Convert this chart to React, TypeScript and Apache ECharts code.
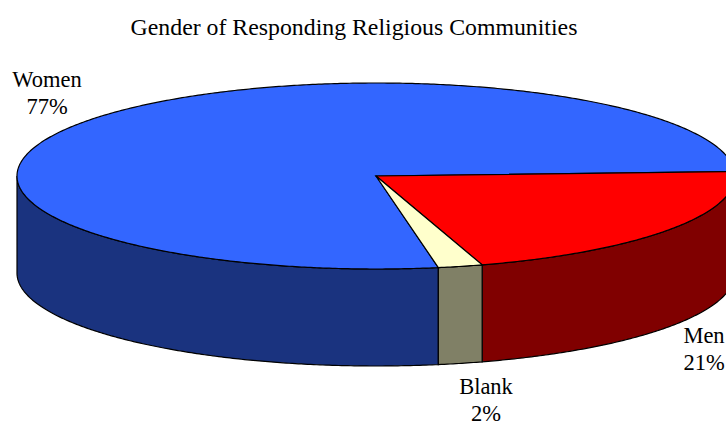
import React, { useEffect, useRef } from "react";
import * as echarts from "echarts";

const categories = ["Women", "Men", "Blank"];
const shares = [77, 21, 2];
const topColors = ["#3366FF", "#FF0000", "#FFFFCC"];
const sideColors = ["#1A337F", "#800000", "#808066"];
const chartTitle = "Gender of Responding Religious Communities";

// Disc geometry in pixels; angles are degrees clockwise on screen from the +x axis.
const CX = 376;
const CY = 176;
const RX = 359;
const RY = 93;
const DEPTH = 97;
const START_ANGLE = 80;
const SERIF = "'Liberation Serif', serif";
const labelAnchors = [
  { x: 47, y: 93 },
  { x: 704, y: 349 },
  { x: 486, y: 400 },
];

const rad = (d: number) => (d * Math.PI) / 180;
const rim = (a: number, dy = 0) => [
  CX + RX * Math.cos(rad(a)),
  CY + RY * Math.sin(rad(a)) + dy,
];

function arc(a0: number, a1: number, dy = 0) {
  const n = Math.max(2, Math.ceil(Math.abs(a1 - a0) * 2));
  const pts: number[][] = [];
  for (let k = 0; k <= n; k++) pts.push(rim(a0 + ((a1 - a0) * k) / n, dy));
  return pts;
}

function renderSlice(params: any, api: any) {
  const i = params.dataIndex;
  const total = shares.reduce((s, v) => s + v, 0);
  const before = shares.slice(0, i).reduce((s, v) => s + v, 0);
  // Women runs clockwise from the blank slice, round the back, to the men slice.
  const a0 = START_ANGLE + (before / total) * 360;
  const a1 = a0 + (api.value(0) / total) * 360;
  const stroke = { stroke: "#000", lineWidth: 1.2 };
  const children: any[] = [];

  // The front wall shows only where the rim lies in the lower half of the ellipse.
  for (const off of [0, 360]) {
    const s = Math.max(a0, off);
    const e = Math.min(a1, off + 180);
    if (e > s) {
      children.push({
        type: "polygon",
        shape: { points: [...arc(s, e), ...arc(e, s, DEPTH)] },
        style: { fill: sideColors[i], ...stroke },
      });
    }
  }

  children.push({
    type: "polygon",
    z2: 2,
    shape: { points: [[CX, CY], ...arc(a0, a1)] },
    style: { fill: topColors[i], ...stroke },
  });

  children.push({
    type: "text",
    z2: 3,
    x: labelAnchors[i].x,
    y: labelAnchors[i].y,
    style: {
      text: `${categories[i]}\n${api.value(0)}%`,
      font: `22.5px ${SERIF}`,
      fill: "#000",
      align: "center",
      verticalAlign: "middle",
      lineHeight: 27,
    },
  });

  return { type: "group", children };
}

export default function App() {
  const ref = useRef<HTMLDivElement>(null);

  useEffect(() => {
    const chart = echarts.init(ref.current!, null, { renderer: "svg" });
    chart.setOption({
      animation: false,
      backgroundColor: "#fff",
      graphic: [
        {
          type: "text",
          x: 354,
          y: 27,
          style: {
            text: chartTitle,
            font: `23.8px ${SERIF}`,
            fill: "#000",
            align: "center",
            verticalAlign: "middle",
          },
        },
      ],
      series: [
        {
          type: "custom",
          coordinateSystem: "none",
          clip: false,
          renderItem: renderSlice,
          data: shares.map((v) => [v]),
        },
      ],
    });
    return () => chart.dispose();
  }, []);

  return (
    <div
      ref={ref}
      style={{ position: "fixed", left: 0, top: 0, width: 726, height: 425, overflow: "hidden" }}
    />
  );
}
